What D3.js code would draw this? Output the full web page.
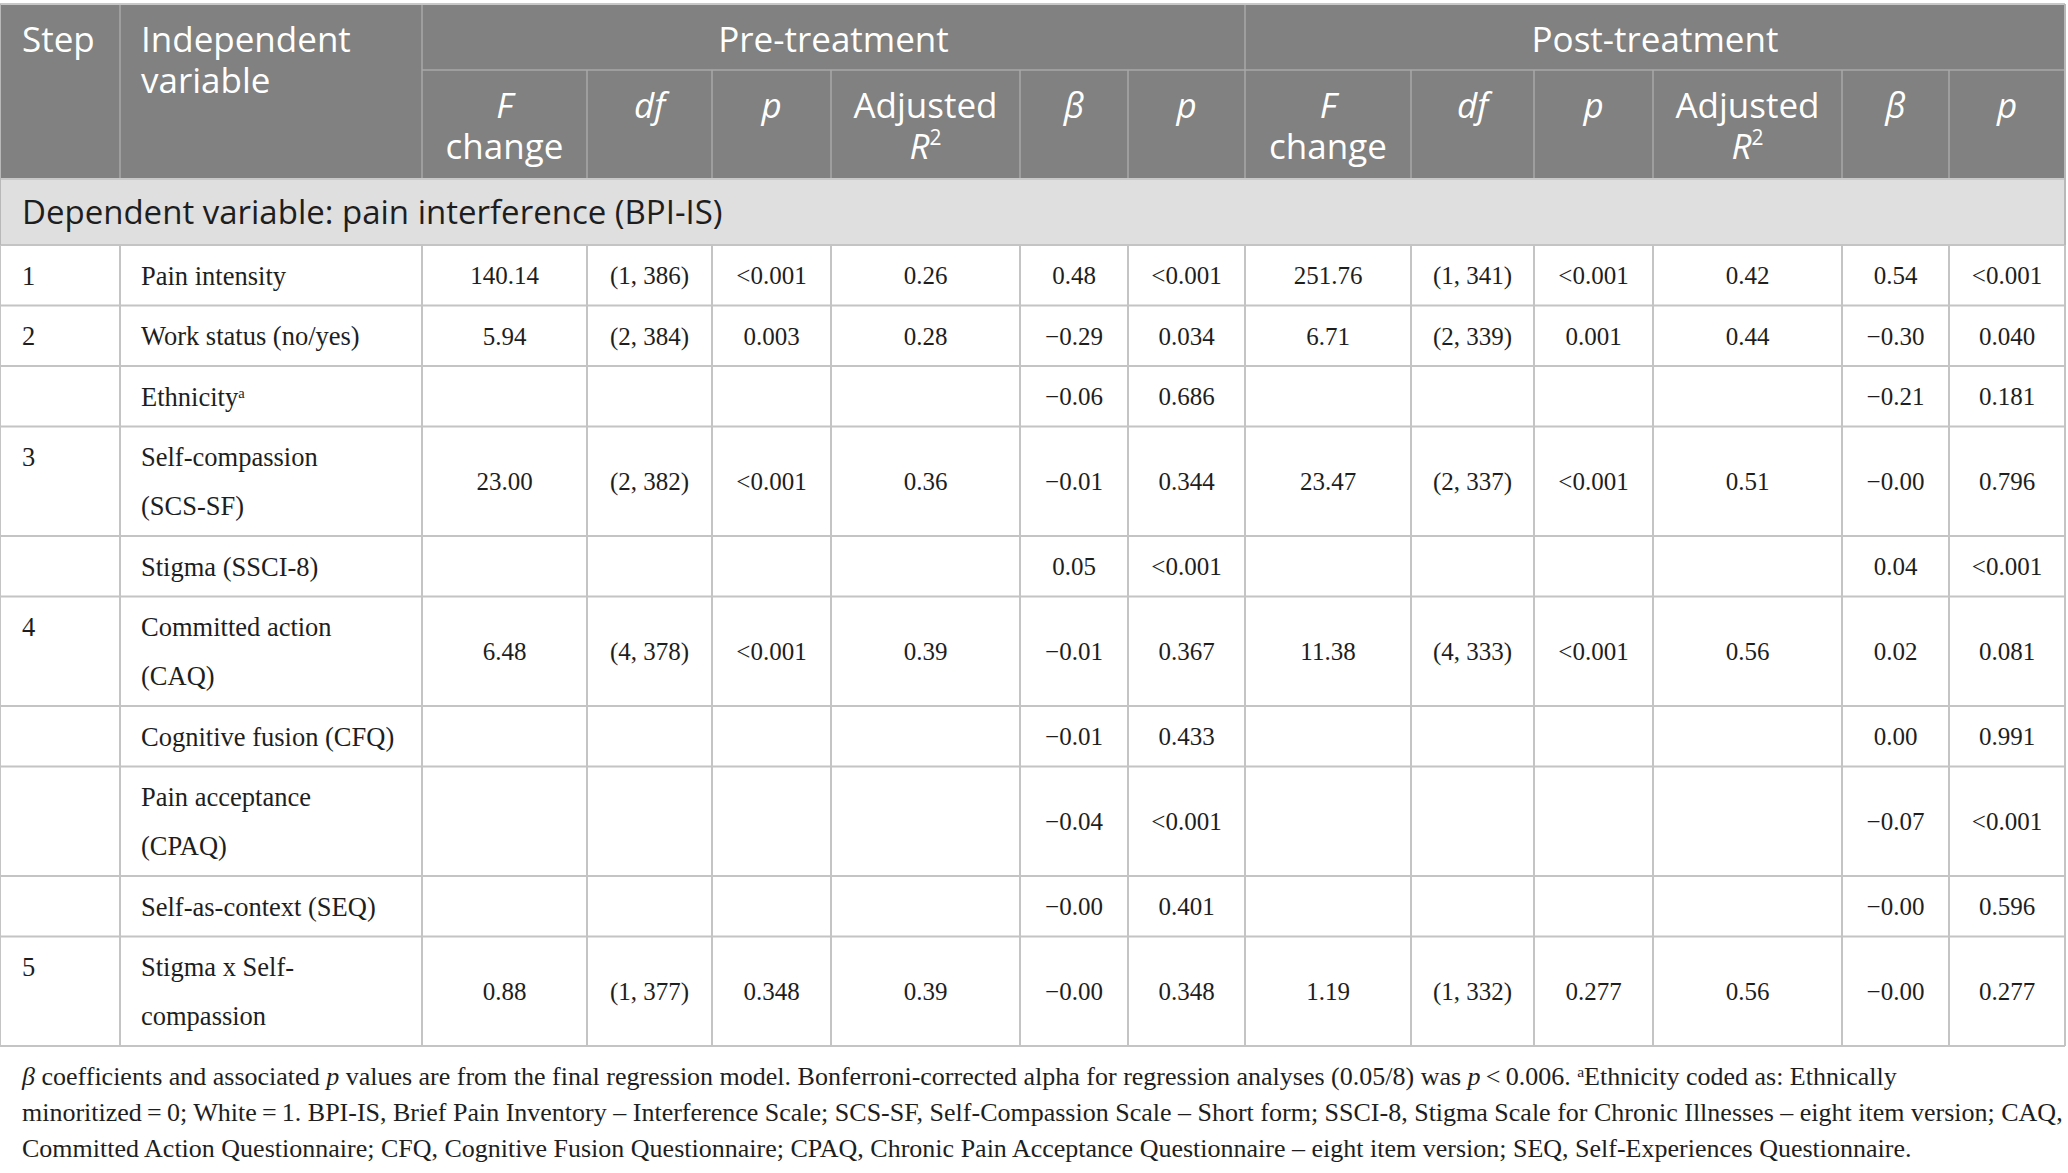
<!DOCTYPE html>
<html>
<head>
<meta charset="utf-8">
<script src="https://cdn.jsdelivr.net/npm/d3@7"></script>
<style>
  body { margin: 0; background: #fff; }
  svg { display: block; }
</style>
</head>
<body>
<div id="chart"></div>
<script>
// table contents, one array per column
var steps = ["1", "2", "", "3", "", "4", "", "", "", "5"];
var variables = [
    ["Pain intensity"],
    ["Work status (no/yes)"],
    ["Ethnicity^a"],
    ["Self-compassion", "(SCS-SF)"],
    ["Stigma (SSCI-8)"],
    ["Committed action", "(CAQ)"],
    ["Cognitive fusion (CFQ)"],
    ["Pain acceptance", "(CPAQ)"],
    ["Self-as-context (SEQ)"],
    ["Stigma x Self-", "compassion"]
];
var preF = ["140.14", "5.94", "", "23.00", "", "6.48", "", "", "", "0.88"];
var preDf = ["(1, 386)", "(2, 384)", "", "(2, 382)", "", "(4, 378)", "", "", "", "(1, 377)"];
var preP = ["<0.001", "0.003", "", "<0.001", "", "<0.001", "", "", "", "0.348"];
var preR2 = ["0.26", "0.28", "", "0.36", "", "0.39", "", "", "", "0.39"];
var preBeta = ["0.48", "\u22120.29", "\u22120.06", "\u22120.01", "0.05", "\u22120.01", "\u22120.01", "\u22120.04", "\u22120.00", "\u22120.00"];
var preBetaP = ["<0.001", "0.034", "0.686", "0.344", "<0.001", "0.367", "0.433", "<0.001", "0.401", "0.348"];
var postF = ["251.76", "6.71", "", "23.47", "", "11.38", "", "", "", "1.19"];
var postDf = ["(1, 341)", "(2, 339)", "", "(2, 337)", "", "(4, 333)", "", "", "", "(1, 332)"];
var postP = ["<0.001", "0.001", "", "<0.001", "", "<0.001", "", "", "", "0.277"];
var postR2 = ["0.42", "0.44", "", "0.51", "", "0.56", "", "", "", "0.56"];
var postBeta = ["0.54", "\u22120.30", "\u22120.21", "\u22120.00", "0.04", "0.02", "0.00", "\u22120.07", "\u22120.00", "\u22120.00"];
var postBetaP = ["<0.001", "0.040", "0.181", "0.796", "<0.001", "0.081", "0.991", "<0.001", "0.596", "0.277"];

// header labels: segments of [text, style] where style is "" / "i" / "sup"
var statHeaders = [
    [[["F", "i"]], [["change", ""]]],
    [[["df", "i"]]],
    [[["p", "i"]]],
    [[["Adjusted", ""]], [["R", "i"], ["2", "sup"]]],
    [[["\u03B2", "i"]]],
    [[["p", "i"]]]
];
var groups = ["Pre-treatment", "Post-treatment"];
var dependentLabel = "Dependent variable: pain interference (BPI-IS)";

var footnote = [
    [["\u03B2", "i"], [" coefficients and associated ", ""], ["p", "i"], [" values are from the final regression model. Bonferroni-corrected alpha for regression analyses (0.05/8) was ", ""], ["p", "i"], ["\u2009<\u20090.006. ", ""], ["a", "sup"], ["Ethnicity coded as: Ethnically", ""]],
    [["minoritized\u2009=\u20090; White\u2009=\u20091. BPI-IS, Brief Pain Inventory \u2013 Interference Scale; SCS-SF, Self-Compassion Scale \u2013 Short form; SSCI-8, Stigma Scale for Chronic Illnesses \u2013 eight item version; CAQ,", ""]],
    [["Committed Action Questionnaire; CFQ, Cognitive Fusion Questionnaire; CPAQ, Chronic Pain Acceptance Questionnaire \u2013 eight item version; SEQ, Self-Experiences Questionnaire.", ""]]
];

var width = 2068;
var height = 1173;

var colWidths = [120, 302, 165, 125, 119, 189, 108, 117, 166, 123, 119, 189, 107, 116];
var colEdges = [0].concat(Array.from(d3.cumsum(colWidths)));
var x = function(i) { return colEdges[i]; };
var xMid = function(i) { return (colEdges[i] + colEdges[i + 1]) / 2; };

var tableTop = 4;
var head1 = 66, head2 = 109, depRow = 66;
var rowBase = 60.5, lineStep = 49;

var serif = "'Liberation Serif', 'Times New Roman', serif";
var sans = "'Open Sans', 'Noto Sans', sans-serif";
var headBg = "#808180";
var headLine = "#a8a9a8";
var bodyLine = "#c4c4c4";
var ink = "#1e1e1e";

var statCols = [preF, preDf, preP, preR2, preBeta, preBetaP, postF, postDf, postP, postR2, postBeta, postBetaP];

var rowHeights = variables.map(function(v) { return rowBase + (v.length - 1) * lineStep; });
var bodyTop = tableTop + head1 + head2 + depRow;
var rowTops = [bodyTop];
rowHeights.forEach(function(h, i) { rowTops.push(rowTops[i] + h); });
var bodyBottom = rowTops[rowTops.length - 1];

var svg = d3.select("#chart")
    .append("svg")
    .attr("width", width)
    .attr("height", height);

function addSegments(textSel, segs, size) {
    segs.forEach(function(s) {
        var t = textSel.append("tspan").text(s[0]);
        if (s[1] == "i") t.attr("font-style", "italic");
        if (s[1] == "sup") {
            t.attr("font-size", size * 0.6).attr("baseline-shift", "super");
        }
    });
}

// header background
svg.append("rect")
    .attr("x", 0).attr("y", tableTop)
    .attr("width", x(14)).attr("height", head1 + head2)
    .attr("fill", headBg);

// dependent variable band
svg.append("rect")
    .attr("x", 0).attr("y", tableTop + head1 + head2)
    .attr("width", x(14)).attr("height", depRow)
    .attr("fill", "#e0dfe0");

var lines = svg.append("g").attr("class", "grid");

// header grid lines
lines.append("line")
    .attr("x1", x(2)).attr("x2", x(14))
    .attr("y1", tableTop + head1).attr("y2", tableTop + head1)
    .attr("stroke", headLine).attr("stroke-width", 1.5);
[1, 2, 8, 14].forEach(function(i) {
    lines.append("line")
        .attr("x1", x(i)).attr("x2", x(i))
        .attr("y1", tableTop).attr("y2", tableTop + head1 + head2)
        .attr("stroke", headLine).attr("stroke-width", 1.5);
});
d3.range(3, 14).filter(function(i) { return i != 8; }).forEach(function(i) {
    lines.append("line")
        .attr("x1", x(i)).attr("x2", x(i))
        .attr("y1", tableTop + head1).attr("y2", tableTop + head1 + head2)
        .attr("stroke", headLine).attr("stroke-width", 1.5);
});

// body grid lines
rowTops.forEach(function(y) {
    lines.append("line")
        .attr("x1", 0).attr("x2", x(14))
        .attr("y1", y).attr("y2", y)
        .attr("stroke", bodyLine).attr("stroke-width", 2);
});
d3.range(0, 15).forEach(function(i) {
    lines.append("line")
        .attr("x1", x(i)).attr("x2", x(i))
        .attr("y1", bodyTop).attr("y2", bodyBottom)
        .attr("stroke", bodyLine).attr("stroke-width", 2);
});
// outline around header and band
lines.append("line")
    .attr("x1", 0).attr("x2", x(14)).attr("y1", tableTop).attr("y2", tableTop)
    .attr("stroke", "#c8c8c8").attr("stroke-width", 2);
lines.append("line")
    .attr("x1", 0).attr("x2", x(14)).attr("y1", tableTop + head1 + head2).attr("y2", tableTop + head1 + head2)
    .attr("stroke", "#c8c8c8").attr("stroke-width", 2);
[0, 14].forEach(function(i) {
    lines.append("line")
        .attr("x1", x(i)).attr("x2", x(i))
        .attr("y1", tableTop).attr("y2", bodyTop)
        .attr("stroke", "#b8b8b8").attr("stroke-width", 2);
});

// header text
var hsize = 35;
var head = svg.append("g")
    .attr("font-family", sans)
    .attr("font-size", hsize)
    .attr("fill", "#ffffff");

head.append("text").attr("x", 22).attr("y", tableTop + 36).attr("dy", "0.35em").text("Step");
head.append("text").attr("x", x(1) + 21).attr("y", tableTop + 36).attr("dy", "0.35em").text("Independent");
head.append("text").attr("x", x(1) + 21).attr("y", tableTop + 36 + 41).attr("dy", "0.35em").text("variable");

groups.forEach(function(g, k) {
    head.append("text")
        .attr("x", (x(2 + k * 6) + x(8 + k * 6)) / 2)
        .attr("y", tableTop + 36)
        .attr("dy", "0.35em")
        .attr("text-anchor", "middle")
        .text(g);
});

groups.forEach(function(g, k) {
    statHeaders.forEach(function(h, j) {
        var col = 2 + k * 6 + j;
        h.forEach(function(line, li) {
            var t = head.append("text")
                .attr("x", xMid(col))
                .attr("y", tableTop + head1 + 36 + li * 41)
                .attr("dy", "0.35em")
                .attr("text-anchor", "middle");
            addSegments(t, line, hsize);
        });
    });
});

// dependent variable band text
svg.append("text")
    .attr("x", 22)
    .attr("y", tableTop + head1 + head2 + depRow / 2)
    .attr("dy", "0.35em")
    .attr("font-family", sans)
    .attr("font-size", 33)
    .attr("fill", ink)
    .text(dependentLabel);

// body text
var bsize = 26.5;
var body = svg.append("g")
    .attr("font-family", serif)
    .attr("font-size", bsize)
    .attr("fill", ink);

var rows = body.selectAll("g.row")
    .data(variables)
    .enter()
    .append("g")
    .attr("class", "row")
    .attr("transform", function(d, i) { return "translate(0," + rowTops[i] + ")"; });

rows.append("text")
    .attr("x", 22)
    .attr("y", rowBase / 2)
    .attr("dy", "0.35em")
    .text(function(d, i) { return steps[i]; });

rows.each(function(d, i) {
    var g = d3.select(this);
    d.forEach(function(label, li) {
        var t = g.append("text")
            .attr("x", x(1) + 21)
            .attr("y", rowBase / 2 + li * lineStep)
            .attr("dy", "0.35em");
        var parts = label.split("^");
        t.append("tspan").text(parts[0]);
        if (parts[1]) t.append("tspan").attr("font-size", bsize * 0.55).attr("baseline-shift", "super").text(parts[1]);
    });
    statCols.forEach(function(col, j) {
        g.append("text")
            .attr("x", xMid(j + 2))
            .attr("y", rowHeights[i] / 2)
            .attr("dy", "0.35em")
            .attr("text-anchor", "middle")
            .attr("font-size", 25)
            .text(col[i]);
    });
});

// footnote
var fsize = 26;
var foot = svg.append("g")
    .attr("font-family", serif)
    .attr("font-size", fsize)
    .attr("fill", ink);

footnote.forEach(function(line, li) {
    var t = foot.append("text")
        .attr("x", 22)
        .attr("y", bodyBottom + 30 + li * 36)
        .attr("dy", "0.35em");
    addSegments(t, line, fsize);
});
</script>
</body>
</html>
